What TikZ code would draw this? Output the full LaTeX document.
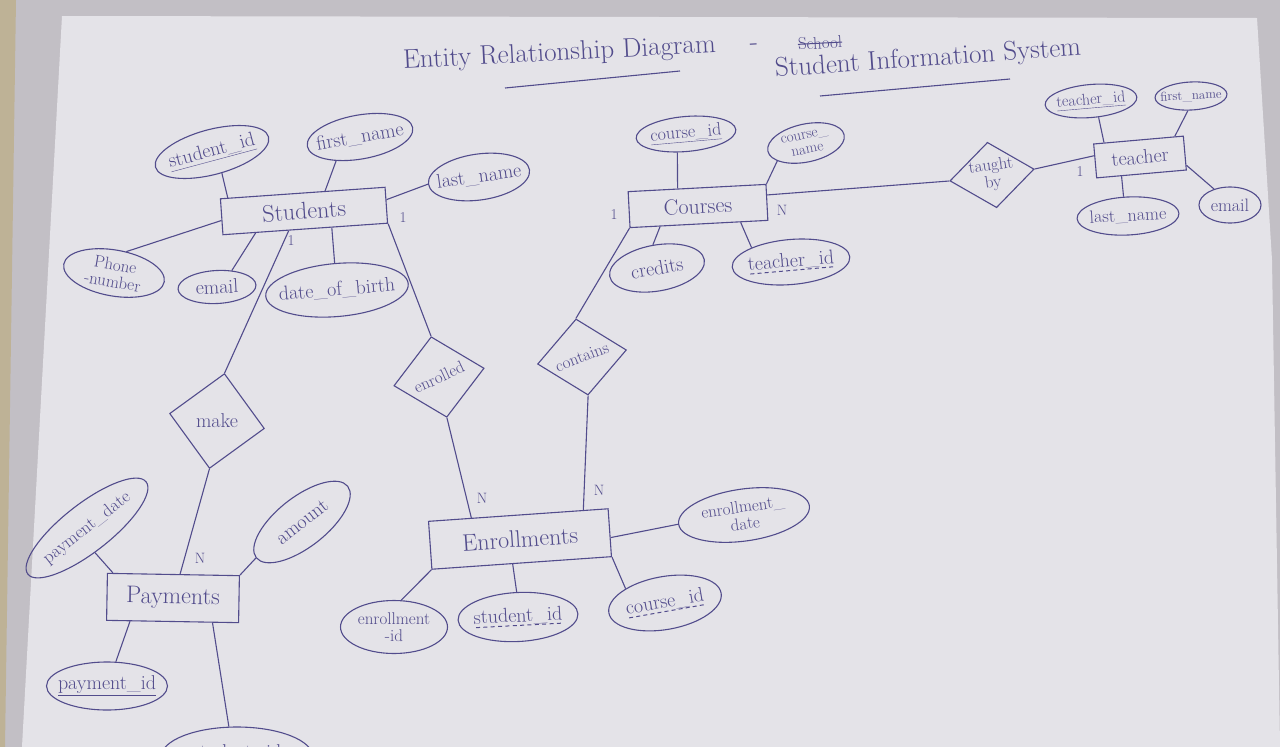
\documentclass[tikz,border=0pt]{standalone}
\usepackage{tikz}
\usetikzlibrary{calc,shapes.geometric}
\usepackage{graphicx}

\definecolor{ink}{RGB}{82,76,140}
\definecolor{paper}{RGB}{228,227,232}
\definecolor{desk}{RGB}{194,191,197}
\definecolor{edge}{RGB}{190,178,150}

% dashed underline and strike-out
\newcommand{\dashund}[1]{\setbox0=\hbox{#1}\rlap{\copy0}\raisebox{-4pt}{\hbox to \wd0{\xleaders\hbox to 7pt{\hss\rule{4pt}{1pt}\hss}\hfill}}}
\newcommand{\strikeout}[1]{\setbox0=\hbox{#1}\rlap{\copy0}\raisebox{0.3em}{\rule{\wd0}{1pt}}}

\tikzset{
	pen/.style={draw=ink, line width=1.1pt},
	entity/.style={pen, rectangle, inner sep=0pt, text=ink, font=\fontsize{24}{26}\selectfont},
	attrib/.style={pen, ellipse, inner sep=-20pt, text=ink, align=center, font=\fontsize{20}{20}\selectfont},
	relation/.style={pen, diamond, inner sep=-20pt, text=ink, align=center, font=\fontsize{17}{17}\selectfont},
	card/.style={text=ink, inner sep=0pt, font=\fontsize{15}{15}\selectfont},
	heading/.style={text=ink, inner sep=0pt, anchor=west, font=\fontsize{27}{29}\selectfont},
}

\begin{document}
\begin{tikzpicture}[x=1pt, y=-1pt]
			
			% ------------------------------------------------------------
			% Sheet of paper
			% ------------------------------------------------------------
			
			\useasboundingbox (0,0) rectangle (1280,747);
			\clip (0,0) rectangle (1280,747);
			\fill[desk] (0,0) rectangle (1280,747);
			\fill[edge] (0,0) -- (16,0) -- (5,747) -- (0,747) -- cycle;
			\fill[paper] (62,16) -- (1257,18) -- (1272,260) -- (1280,747) -- (22,747) -- cycle;
			
			% ------------------------------------------------------------
			% Title
			% ------------------------------------------------------------
			
			\node[heading, rotate=3] (ttl) at (403,62)
			{Entity Relationship Diagram\hspace{34pt}-};
			
			\node[card, font=\fontsize{17}{17}\selectfont, rotate=3] (old) at (820,43)
			{\strikeout{School}};
			
			\node[heading, rotate=4] (sub) at (775,70)
			{Student Information System};
			
			\draw[pen] (505,88) -- (680,71);
			\draw[pen] (820,96) -- (1010,79);
			
			% ------------------------------------------------------------
			% Entities
			% ------------------------------------------------------------
			
			\node[entity, minimum width=165, minimum height=36, rotate=4] (stu) at (304,211)
			{Students};
			
			\node[entity, minimum width=138, minimum height=36, rotate=3, font=\fontsize{22}{22}\selectfont] (crs) at (698,206)
			{Courses};
			
			\node[entity, minimum width=90, minimum height=34, rotate=5, font=\fontsize{20}{20}\selectfont] (tch) at (1140,157)
			{teacher};
			
			\node[entity, minimum width=180, minimum height=48, rotate=4] (enr) at (520,539)
			{Enrollments};
			
			\node[entity, minimum width=132, minimum height=47, rotate=-1] (pay) at (173,598)
			{Payments};
			
			% ------------------------------------------------------------
			% Relationships
			% ------------------------------------------------------------
			
			\node[relation, minimum width=96, minimum height=96, rotate=-9, font=\fontsize{20}{20}\selectfont] (make) at (217,421)
			{\rotatebox{9}{make}};
			
			\node[relation, minimum width=92, minimum height=82, rotate=11] (enrol) at (439,377)
			{\rotatebox{14}{enrolled}};
			
			\node[relation, minimum width=90, minimum height=77, rotate=9] (cont) at (582,357)
			{\rotatebox{12}{contains}};
			
			\node[relation, minimum width=85, minimum height=66, rotate=8] (taught) at (992,175)
			{taught\\by};
			
			% ------------------------------------------------------------
			% Attributes
			% ------------------------------------------------------------
			
			\node[attrib, minimum width=117, minimum height=45, rotate=15] (stuId) at (212,152)
			{\underline{student\_id}};
			\node[attrib, minimum width=107, minimum height=44, rotate=10] (stuFirst) at (360,137)
			{first\_name};
			\node[attrib, minimum width=102, minimum height=46, rotate=8] (stuLast) at (479,177)
			{last\_name};
			\node[attrib, minimum width=102, minimum height=46, rotate=-10, font=\fontsize{17}{17}\selectfont] (stuPhone) at (114,273)
			{Phone\\-number};
			\node[attrib, minimum width=78, minimum height=33, rotate=3] (stuEmail) at (217,287)
			{email};
			\node[attrib, minimum width=143, minimum height=53, rotate=5] (stuDob) at (337,290)
			{date\_of\_birth};
			
			\node[attrib, minimum width=100, minimum height=35, rotate=5, font=\fontsize{18}{18}\selectfont] (crsId) at (686,134)
			{\underline{course\_id}};
			\node[attrib, minimum width=78, minimum height=38, rotate=12, font=\fontsize{15}{15}\selectfont] (crsName) at (806,143)
			{course\_\\name};
			\node[attrib, minimum width=96, minimum height=46, rotate=10] (crsCredits) at (657,268)
			{credits};
			\node[attrib, minimum width=118, minimum height=45, rotate=5] (crsTeacher) at (791,262)
			{\dashund{teacher\_id}};
			
			\node[attrib, minimum width=92, minimum height=33, rotate=5, font=\fontsize{16}{16}\selectfont] (tchId) at (1091,101)
			{\underline{teacher\_id}};
			\node[attrib, minimum width=72, minimum height=28, rotate=3, font=\fontsize{13}{13}\selectfont] (tchFirst) at (1191,96)
			{first\_name};
			\node[attrib, minimum width=102, minimum height=38, rotate=3, font=\fontsize{18}{18}\selectfont] (tchLast) at (1128,216)
			{last\_name};
			\node[attrib, minimum width=62, minimum height=36, font=\fontsize{18}{18}\selectfont] (tchEmail) at (1230,205)
			{email};
			
			\node[attrib, minimum width=132, minimum height=52, rotate=8, font=\fontsize{17}{17}\selectfont] (enrDate) at (744,515)
			{enrollment\_\\date};
			\node[attrib, minimum width=107, minimum height=53, font=\fontsize{17}{17}\selectfont] (enrId) at (394,627)
			{enrollment\\-id};
			\node[attrib, minimum width=120, minimum height=49, rotate=3] (enrStu) at (518,617)
			{\dashund{student\_id}};
			\node[attrib, minimum width=114, minimum height=53, rotate=10] (enrCrs) at (665,603)
			{\dashund{course\_id}};
			
			\node[attrib, minimum width=150, minimum height=48, rotate=38, font=\fontsize{18}{18}\selectfont] (payDate) at (87,528)
			{payment\_date};
			\node[attrib, minimum width=116, minimum height=50, rotate=38] (payAmount) at (302,522)
			{amount};
			\node[attrib, minimum width=121, minimum height=48] (payId) at (107,686)
			{\underline{payment\_id}};
			\node[attrib, minimum width=152, minimum height=60] (payStu) at (237,757)
			{\raisebox{11pt}{student\_id}};
			
			% ------------------------------------------------------------
			% Connecting lines
			% ------------------------------------------------------------
			
			\draw[pen] (stuId.280) -- ([xshift=8]stu.north west);
			\draw[pen] (stuFirst.215) -- ($(stu.north)!0.27!(stu.north east)$);
			\draw[pen] (stuLast.west) -- ($(stu.north east)!0.35!(stu.south east)$);
			\draw[pen] (stuPhone.70) -- ($(stu.north west)!0.6!(stu.south west)$);
			\draw[pen] (stuEmail.45) -- ($(stu.south west)!0.2!(stu.south east)$);
			\draw[pen] (stuDob.north) -- ($(stu.south west)!0.66!(stu.south east)$);
			
			\draw[pen] (crsId.240) -- ($(crs.north west)!0.36!(crs.north east)$);
			\draw[pen] (crsName.200) -- (crs.north east);
			\draw[pen] (crsCredits.north) -- ($(crs.south west)!0.22!(crs.south east)$);
			\draw[pen] (crsTeacher.155) -- ($(crs.south west)!0.8!(crs.south east)$);
			
			\draw[pen] (tchId.290) -- ($(tch.north west)!0.12!(tch.north east)$);
			\draw[pen] (tchFirst.255) -- ($(tch.north west)!0.9!(tch.north east)$);
			\draw[pen] (tchLast.100) -- ($(tch.south west)!0.28!(tch.south east)$);
			\draw[pen] (tchEmail.135) -- ($(tch.north east)!0.85!(tch.south east)$);
			
			\draw[pen] (enrDate.west) -- ($(enr.north east)!0.6!(enr.south east)$);
			\draw[pen] (enrId.75) -- (enr.south west);
			\draw[pen] (enrStu.north) -- ($(enr.south west)!0.45!(enr.south east)$);
			\draw[pen] (enrCrs.150) -- (enr.south east);
			
			\draw[pen] (payDate.250) -- ([xshift=6]pay.north west);
			\draw[pen] (payAmount.west) -- (pay.north east);
			\draw[pen] (payId.70) -- ($(pay.south west)!0.18!(pay.south east)$);
			\draw[pen] (payStu.105) -- ($(pay.south west)!0.8!(pay.south east)$);
			
			% relationships
			\draw[pen] ($(stu.south west)!0.4!(stu.south east)$) -- (make.north);
			\draw[pen] (make.south) -- ($(pay.north west)!0.55!(pay.north east)$);
			\draw[pen] (stu.south east) -- (enrol.north);
			\draw[pen] (enrol.south) -- ($(enr.north west)!0.24!(enr.north east)$);
			\draw[pen] (crs.south west) -- (cont.north);
			\draw[pen] (cont.south) -- ($(enr.north west)!0.86!(enr.north east)$);
			\draw[pen] ($(crs.north east)!0.3!(crs.south east)$) -- (taught.west);
			\draw[pen] (taught.east) -- ($(tch.north west)!0.35!(tch.south west)$);
			
			% ------------------------------------------------------------
			% Cardinalities
			% ------------------------------------------------------------
			
			\node[card] (k1) at (403,218) {1};
			\node[card] (k2) at (291,241) {1};
			\node[card] (k3) at (482,498) {N};
			\node[card] (k4) at (599,490) {N};
			\node[card] (k5) at (614,215) {1};
			\node[card] (k6) at (782,210) {N};
			\node[card] (k7) at (1080,172) {1};
			\node[card] (k8) at (200,558) {N};
		\end{tikzpicture}
\end{document}
